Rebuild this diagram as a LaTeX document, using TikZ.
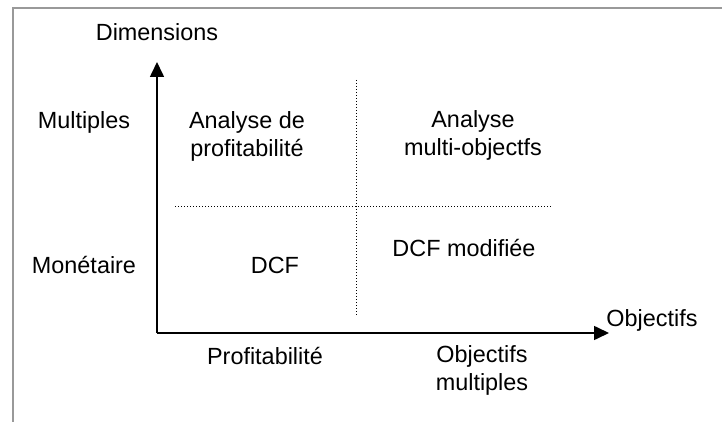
\documentclass[tikz,border=0pt]{standalone}
\usepackage{fontspec}
\setmainfont{Liberation Sans}
\usepackage{tikz}
\usetikzlibrary{arrows.meta}

\begin{document}
\begin{tikzpicture}[x=0.5pt, y=-0.5pt,
        lbl/.style={align=center, inner sep=0pt, font=\fontsize{11.7}{14}\selectfont},
        axis/.style={line width=0.8pt, -{Triangle[length=7.5pt, width=7pt]}},
        grid/.style={densely dotted, line width=0.5pt}]
        \useasboundingbox (0,0) rectangle (722,422);
        % frame
        \draw[gray!80, line width=1pt] (13,422) -- (13,8) -- (722,8);

        \coordinate (origin) at (157,333);
        \coordinate (ytip) at (157,62);
        \coordinate (xtip) at (609,333);

        \node[lbl] (dims) at (157,32) {Dimensions};
        \node[lbl] (obj) at (652,320) {Objectifs};

        \node[lbl] (mult) at (84,122) {Multiples};
        \node[lbl] (mone) at (84,265) {Monétaire};
        \node[lbl] (prof) at (265,356) {Profitabilité};
        \node[lbl] (objm) at (482,370) {Objectifs\\multiples};

        \node[lbl] (ap) at (247,136) {Analyse de\\profitabilité};
        \node[lbl] (am) at (473,135) {Analyse\\multi-objectfs};
        \node[lbl] (dcf) at (275,265) {DCF};
        \node[lbl] (dcfm) at (464,248) {DCF modifiée};

        \draw[axis] (origin) -- (ytip);
        \draw[axis] (origin) -- (xtip);

        \draw[grid] (175,207) -- (553,207);
        \draw[grid] (356,80) -- (356,315);
    \end{tikzpicture}
\end{document}
